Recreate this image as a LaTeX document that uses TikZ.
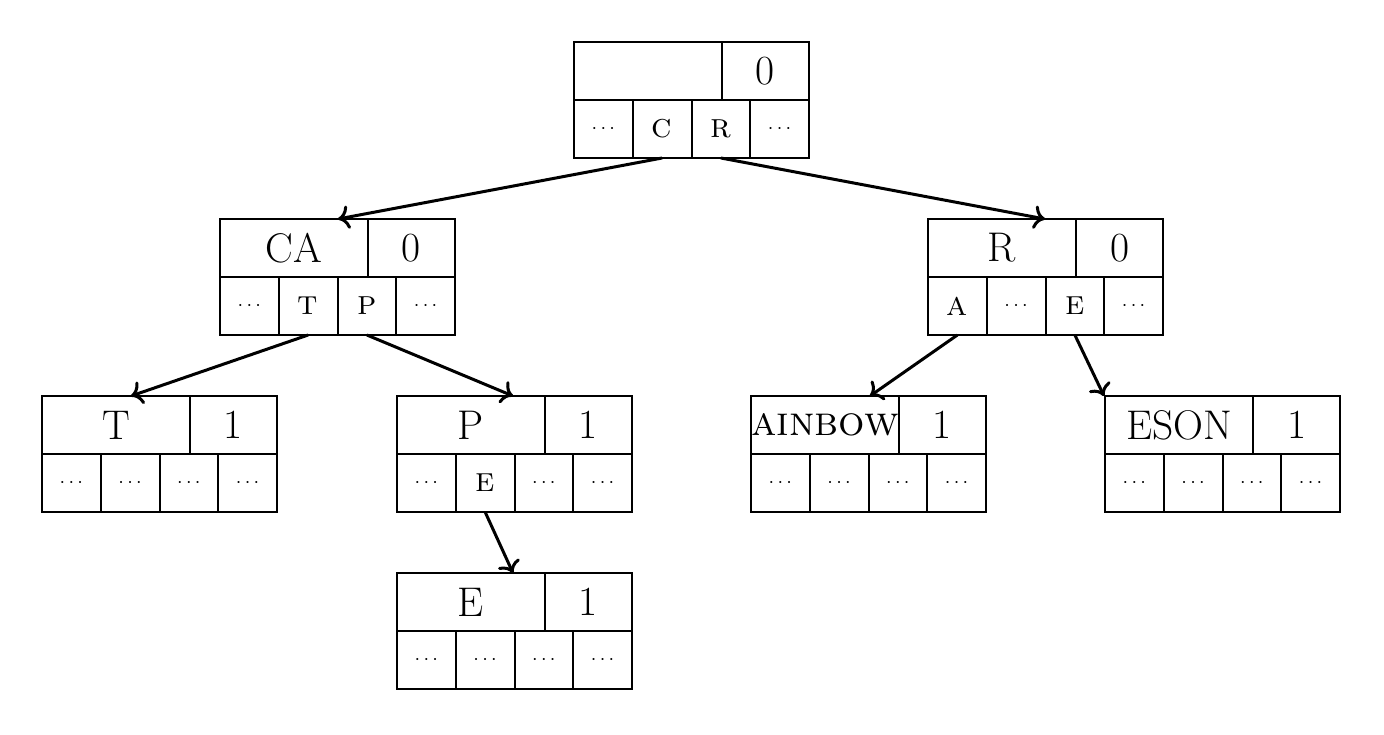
\documentclass[tikz,border=0pt]{standalone}
\usetikzlibrary{calc,arrows.meta}
\tikzset{
  cellbox/.style={draw, line width=1pt, inner sep=0pt, outer sep=0pt, minimum height=29pt},
  bigtxt/.style={font=\huge},
  smalltxt/.style={font=\LARGE},
  link/.style={line width=1.5pt, -{To[scale=1.15]}},
}
\newcommand\dd{{\normalsize$\cdots$}}
\newcommand\trie[9]{%
  \node[cellbox, bigtxt, minimum width=74pt, anchor=north west] (#1-l) at (#2,#3) {#4};
  \node[cellbox, bigtxt, minimum width=43.5pt, anchor=north west] (#1-v) at (#1-l.north east) {#5};
  \node[cellbox, smalltxt, minimum width=29.375pt, anchor=north west] (#1-1) at (#1-l.south west) {#6};
  \node[cellbox, smalltxt, minimum width=29.375pt, anchor=north west] (#1-2) at (#1-1.north east) {#7};
  \node[cellbox, smalltxt, minimum width=29.375pt, anchor=north west] (#1-3) at (#1-2.north east) {#8};
  \node[cellbox, smalltxt, minimum width=29.375pt, anchor=north west] (#1-4) at (#1-3.north east) {#9};
}
\begin{document}
\begin{tikzpicture}[x=0.5pt,y=-0.5pt]
  \useasboundingbox (0,0) rectangle (1384,734);
  \trie{root}{574}{42}{}{0}{\dd}{\textsc{c}}{\textsc{r}}{\dd}
  \trie{CA}{220}{219}{CA}{0}{\dd}{\textsc{t}}{\textsc{p}}{\dd}
  \trie{R}{928}{219}{R}{0}{\textsc{a}}{\dd}{\textsc{e}}{\dd}
  \trie{T}{42}{396}{T}{1}{\dd}{\dd}{\dd}{\dd}
  \trie{P}{397}{396}{P}{1}{\dd}{\textsc{e}}{\dd}{\dd}
  \trie{AIN}{751}{396}{\textsc{ainbow}}{1}{\dd}{\dd}{\dd}{\dd}
  \trie{ESON}{1105}{396}{ESON}{1}{\dd}{\dd}{\dd}{\dd}
  \trie{E}{397}{573}{E}{1}{\dd}{\dd}{\dd}{\dd}
  % arrow targets
  \coordinate (tCA) at ($(CA-l.north west)+(118,0)$);
  \coordinate (tR) at ($(R-l.north west)+(117,0)$);
  \coordinate (tT) at ($(T-l.north west)+(89,0)$);
  \coordinate (tP) at ($(P-l.north west)+(116,0)$);
  \coordinate (tAIN) at ($(AIN-l.north west)+(119,0)$);
  \coordinate (tESON) at ($(ESON-l.north west)+(-1,0)$);
  \coordinate (tE) at ($(E-l.north west)+(116,0)$);
  \draw[link] (root-2.south) -- (tCA);
  \draw[link] (root-3.south) -- (tR);
  \draw[link] (CA-2.south) -- (tT);
  \draw[link] (CA-3.south) -- (tP);
  \draw[link] (R-1.south) -- (tAIN);
  \draw[link] (R-3.south) -- (tESON);
  \draw[link] (P-2.south) -- (tE);
\end{tikzpicture}
\end{document}
